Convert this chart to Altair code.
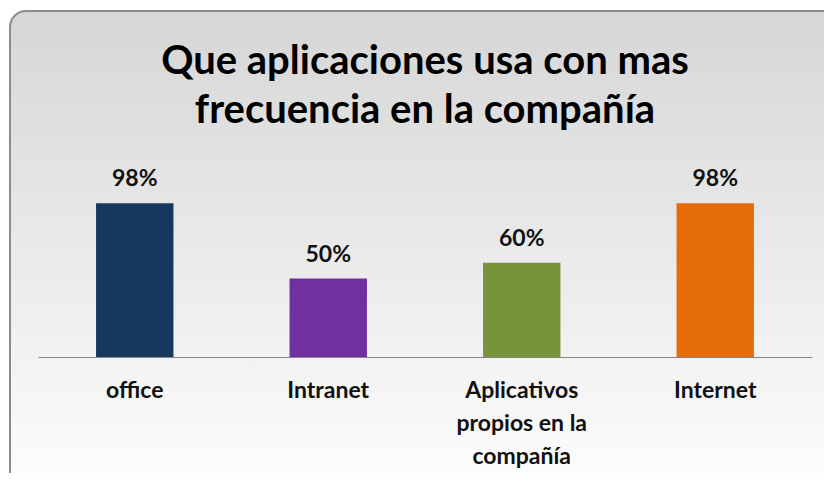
import altair as alt
import pandas as pd

categories = ["office", "Intranet", "Aplicativos\npropios en la\ncompañía", "Internet"]
values = [98, 50, 60, 98]
labels = ["98%", "50%", "60%", "98%"]
colors = ["#17375E", "#7030A0", "#77933C", "#E46C0A"]

df = pd.DataFrame({"cat": categories, "val": values, "lab": labels})

FONT = "Lato"

bg = alt.Chart(pd.DataFrame({"k": [0]})).mark_rect(
    cornerRadius=16,
    stroke="#8c8c8c",
    strokeWidth=2,
    color=alt.Gradient(
        gradient="linear",
        x1=0, y1=0, x2=0, y2=1,
        stops=[alt.GradientStop(color="#d6d6d6", offset=0),
               alt.GradientStop(color="#ffffff", offset=1)],
    ),
).encode(
    x=alt.value(-28), x2=alt.value(830),
    y=alt.value(-189), y2=alt.value(310),
)

xenc = alt.X(
    "cat:N", sort=categories, title=None,
    scale=alt.Scale(paddingInner=0.6, paddingOuter=0.3),
    axis=alt.Axis(
        labelAngle=0, ticks=False, domainColor="#868686", domainWidth=1.2,
        labelFont=FONT, labelFontSize=23, labelFontWeight="bold",
        labelColor="#111111", labelPadding=22, labelLineHeight=33,
        labelExpr="split(datum.label, '\\n')", labelLimit=300, zindex=2,
    ),
)
yenc = alt.Y("val:Q", scale=alt.Scale(domain=[0, 100]), axis=None)

bars = alt.Chart(df).mark_bar().encode(
    x=xenc, y=yenc,
    color=alt.Color("cat:N", sort=categories,
                    scale=alt.Scale(domain=categories, range=colors), legend=None),
)
text = alt.Chart(df).mark_text(
    baseline="bottom", dy=-12, font=FONT, fontSize=23, fontWeight="bold", color="#111111"
).encode(x=alt.X("cat:N", sort=categories), y="val:Q", text="lab:N")

chart = alt.layer(bg, bars, text).properties(
    width=774, height=157,
    title=alt.Title(
        ["Que aplicaciones usa con mas", "frecuencia en la compañía"],
        font=FONT, fontSize=40, fontWeight="bold", color="#000000",
        lineHeight=49, offset=0, dy=121, anchor="middle",
    ),
    autosize=alt.AutoSizeParams(type="none"),
    padding={"left": 30, "top": 192, "right": 12, "bottom": 116},
).configure_view(stroke=None).configure(background="#ffffff")

chart.save("out.html", embed_options={"renderer": "svg", "actions": False})
